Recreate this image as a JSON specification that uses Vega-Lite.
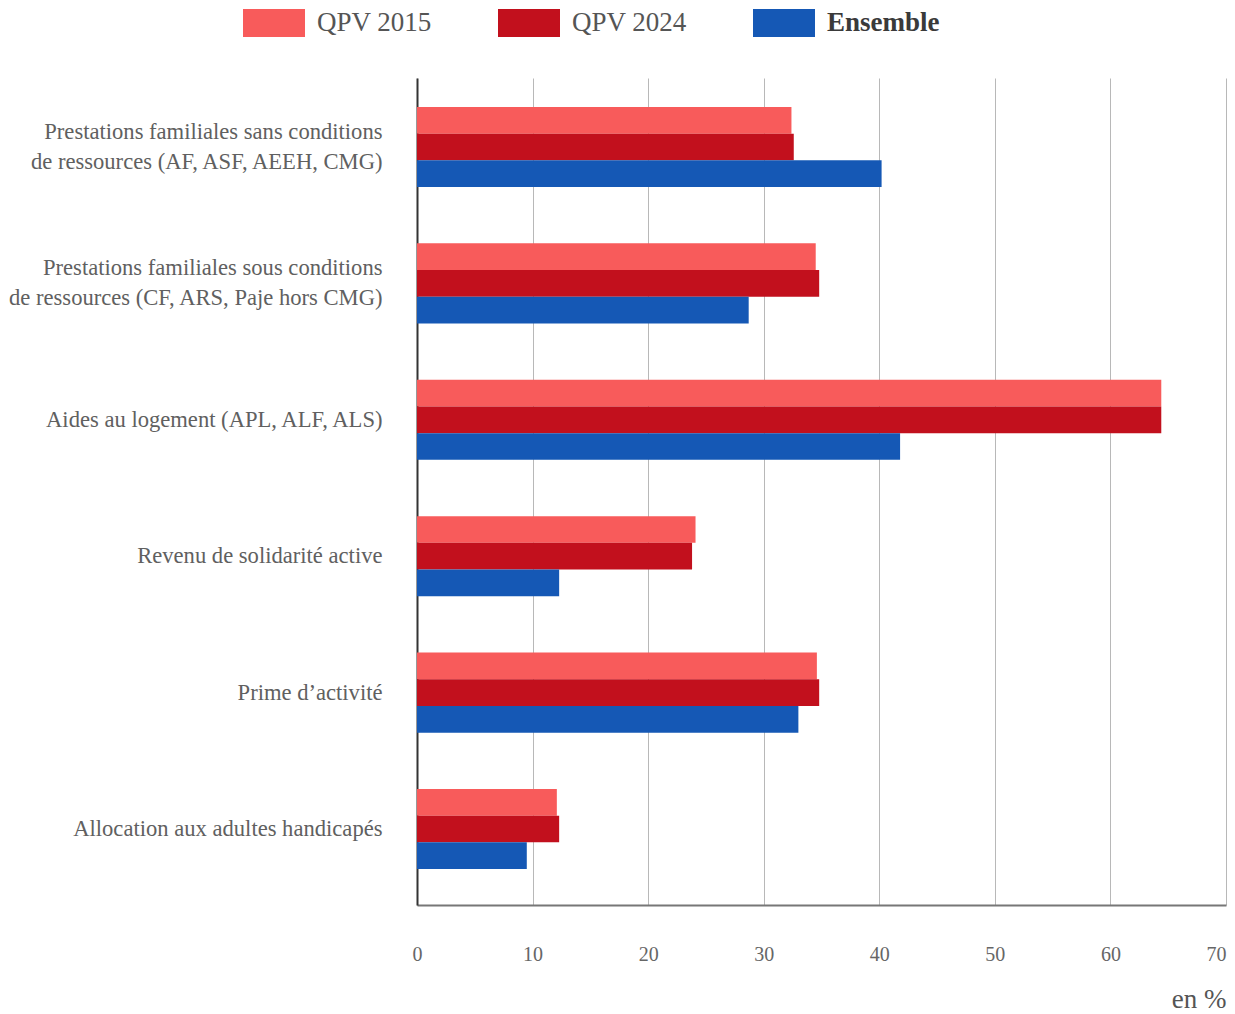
{
  "$schema": "https://vega.github.io/schema/vega-lite/v6.json",
  "width": 809,
  "height": 827,
  "autosize": {"type": "none"},
  "padding": {"left": 417, "top": 78, "right": 9, "bottom": 109},
  "background": "white",
  "config": {
    "view": {"stroke": null},
    "font": "Liberation Serif"
  },
  "data": {
    "values": [
      {"prestation": "Prestations familiales sans conditions de ressources (AF, ASF, AEEH, CMG)", "serie": "QPV 2015", "part": 32.4},
      {"prestation": "Prestations familiales sans conditions de ressources (AF, ASF, AEEH, CMG)", "serie": "QPV 2024", "part": 32.6},
      {"prestation": "Prestations familiales sans conditions de ressources (AF, ASF, AEEH, CMG)", "serie": "Ensemble", "part": 40.2},
      {"prestation": "Prestations familiales sous conditions de ressources (CF, ARS, Paje hors CMG)", "serie": "QPV 2015", "part": 34.5},
      {"prestation": "Prestations familiales sous conditions de ressources (CF, ARS, Paje hors CMG)", "serie": "QPV 2024", "part": 34.8},
      {"prestation": "Prestations familiales sous conditions de ressources (CF, ARS, Paje hors CMG)", "serie": "Ensemble", "part": 28.7},
      {"prestation": "Aides au logement (APL, ALF, ALS)", "serie": "QPV 2015", "part": 64.4},
      {"prestation": "Aides au logement (APL, ALF, ALS)", "serie": "QPV 2024", "part": 64.4},
      {"prestation": "Aides au logement (APL, ALF, ALS)", "serie": "Ensemble", "part": 41.8},
      {"prestation": "Revenu de solidarité active", "serie": "QPV 2015", "part": 24.1},
      {"prestation": "Revenu de solidarité active", "serie": "QPV 2024", "part": 23.8},
      {"prestation": "Revenu de solidarité active", "serie": "Ensemble", "part": 12.3},
      {"prestation": "Prime d’activité", "serie": "QPV 2015", "part": 34.6},
      {"prestation": "Prime d’activité", "serie": "QPV 2024", "part": 34.8},
      {"prestation": "Prime d’activité", "serie": "Ensemble", "part": 33.0},
      {"prestation": "Allocation aux adultes handicapés", "serie": "QPV 2015", "part": 12.1},
      {"prestation": "Allocation aux adultes handicapés", "serie": "QPV 2024", "part": 12.3},
      {"prestation": "Allocation aux adultes handicapés", "serie": "Ensemble", "part": 9.5}
    ]
  },
  "mark": {"type": "bar"},
  "encoding": {
    "y": {
      "field": "prestation",
      "type": "nominal",
      "sort": null,
      "scale": {"paddingInner": 0.413, "paddingOuter": 0.238, "align": 0.446},
      "axis": {
        "title": null,
        "ticks": false,
        "domainColor": "#333333",
        "domainWidth": 2,
        "labelFontSize": 22.6,
        "labelColor": "#606060",
        "labelPadding": 35,
        "labelLimit": 420,
        "labelLineHeight": 30,
        "labelOffset": {
          "condition": {"test": "indexof(datum.value, ' de ressources') > 0", "value": -15},
          "value": 0
        },
        "labelExpr": "indexof(datum.label, ' de ressources') > 0 ? [slice(datum.label, 0, indexof(datum.label, ' de ressources')), slice(datum.label, indexof(datum.label, ' de ressources') + 1)] : datum.label"
      }
    },
    "yOffset": {
      "field": "serie",
      "type": "nominal",
      "sort": ["QPV 2015", "QPV 2024", "Ensemble"]
    },
    "x": {
      "field": "part",
      "type": "quantitative",
      "scale": {"domain": [0, 70], "nice": false},
      "axis": {
        "values": [0, 10, 20, 30, 40, 50, 60, 70],
        "title": "en %",
        "titleFontSize": 27,
        "titleFontWeight": "normal",
        "titleColor": "#555555",
        "titleAnchor": "end",
        "titleAlign": "right",
        "titlePadding": 22,
        "ticks": false,
        "grid": true,
        "gridColor": "#b8b8b8",
        "gridWidth": 1,
        "domainColor": "#777777",
        "domainWidth": 2,
        "labelFlush": false,
        "labelAlign": {
          "condition": {"test": "datum.value == 70", "value": "right"},
          "value": "center"
        },
        "labelFontSize": 20,
        "labelColor": "#666666",
        "labelPadding": 39
      }
    },
    "color": {
      "field": "serie",
      "type": "nominal",
      "sort": ["QPV 2015", "QPV 2024", "Ensemble"],
      "scale": {
        "domain": ["QPV 2015", "QPV 2024", "Ensemble"],
        "range": ["#f85b5b", "#c2101d", "#1558b5"]
      },
      "legend": {
        "title": null,
        "orient": "none",
        "direction": "horizontal",
        "legendX": -174,
        "legendY": -86,
        "padding": 0,
        "symbolType": "M-1,-0.45H1V0.45H-1Z",
        "symbolSize": 3844,
        "symbolStrokeWidth": 0,
        "symbolOpacity": 1,
        "labelFontSize": 27,
        "labelColor": "#555555",
        "labelOffset": 12,
        "gridAlign": "all",
        "columnPadding": 66,
        "encode": {
          "labels": {
            "update": {
              "fontWeight": {"signal": "datum.label === 'Ensemble' ? 'bold' : 'normal'"},
              "fill": {"signal": "datum.label === 'Ensemble' ? '#3a3a3a' : '#555555'"}
            }
          }
        }
      }
    }
  }
}
